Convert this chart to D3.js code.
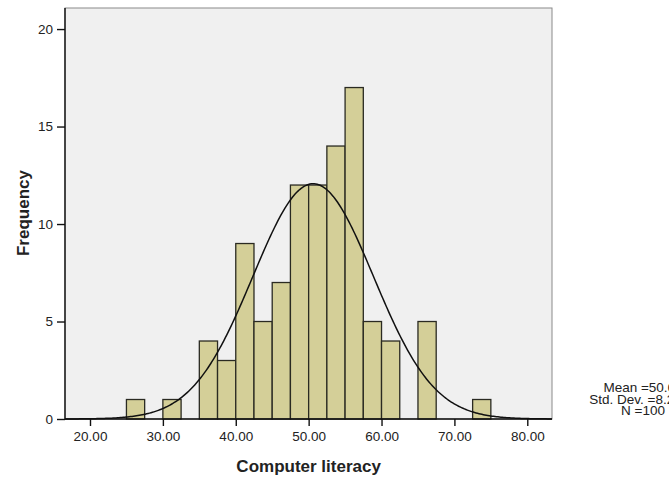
<!DOCTYPE html>
<html>
<head>
<meta charset="utf-8">
<script src="https://cdn.jsdelivr.net/npm/d3@7"></script>
<style>
  body { margin: 0; background: #fff; }
  svg text { font-family: "Liberation Sans", Arial, sans-serif; fill: #222; }
</style>
</head>
<body>
<div class="histogram"></div>
<script>
// bins of width 2.5, starting values
const binStarts = [25, 27.5, 30, 32.5, 35, 37.5, 40, 42.5, 45, 47.5, 50, 52.5, 55, 57.5, 60, 62.5, 65, 67.5, 70, 72.5];
const counts    = [ 1,    0,  1,    0,  4,    3,  9,    5,  7,   12, 12,   14, 17,    5,  4,    0,  5,    0,  0,    1];
const binWidth = 2.5;
const xTicks = [20, 30, 40, 50, 60, 70, 80];
const yTicks = [0, 5, 10, 15, 20];
const stats = { mean: 50.62, sd: 8.2654, n: 100 };
const statLines = ["Mean =50.62", "Std. Dev. =8.2654", "N =100"];

const W = 669, H = 478;
const margin = { top: 8, right: 117, bottom: 59, left: 65 };

const svg = d3.select('.histogram').append('svg')
    .attr('width', W)
    .attr('height', H);

let x = d3.scaleLinear()
    .domain([16.57, 83.39])
    .range([margin.left, W - margin.right]);

let y = d3.scaleLinear()
    .domain([0, 21.08])
    .range([H - margin.bottom, margin.top]);

// plot background
svg.append('rect')
    .attr('x', margin.left)
    .attr('y', margin.top)
    .attr('width', W - margin.right - margin.left)
    .attr('height', H - margin.bottom - margin.top)
    .attr('fill', '#f0f0f0')
    .attr('stroke', '#8a8a8a')
    .attr('stroke-width', 1);

// bars
const bins = binStarts.map((b, i) => ({ x0: b, count: counts[i] })).filter(d => d.count > 0);
svg.append('g')
    .selectAll('rect')
    .data(bins)
    .join('rect')
    .attr('x', d => x(d.x0))
    .attr('y', d => y(d.count))
    .attr('width', d => x(d.x0 + binWidth) - x(d.x0))
    .attr('height', d => y(0) - y(d.count))
    .attr('fill', '#d4cf98')
    .attr('stroke', '#2a2a22')
    .attr('stroke-width', 1.3);

// normal curve
const scale = stats.n * binWidth / (stats.sd * Math.sqrt(2 * Math.PI));
const curve = d3.range(x.domain()[0], x.domain()[1], 0.2).map(v => ({
    v: v,
    f: scale * Math.exp(-0.5 * Math.pow((v - stats.mean) / stats.sd, 2))
}));
svg.append('path')
    .datum(curve)
    .attr('fill', 'none')
    .attr('stroke', '#111')
    .attr('stroke-width', 1.5)
    .attr('d', d3.line().x(d => x(d.v)).y(d => y(d.f)));

// axes
const xAxis = svg.append('g')
    .attr('transform', `translate(0,${H - margin.bottom})`)
    .call(d3.axisBottom(x).tickValues(xTicks).tickFormat(d3.format('.2f')).tickSizeOuter(0).tickSize(7).tickPadding(5));
const yAxis = svg.append('g')
    .attr('transform', `translate(${margin.left},0)`)
    .call(d3.axisLeft(y).tickValues(yTicks).tickSizeOuter(0).tickSize(8).tickPadding(4));

[xAxis, yAxis].forEach(a => {
    a.select('.domain').attr('stroke', '#111').attr('stroke-width', 1.4);
    a.selectAll('.tick line').attr('stroke', '#111').attr('stroke-width', 1.4);
    a.selectAll('.tick text')
        .attr('font-size', 13.5)
        .attr('font-family', '"Liberation Sans", Arial, sans-serif')
        .attr('fill', '#222');
});
// the x domain line should span the whole plot
xAxis.select('.domain').attr('d', `M${margin.left},0H${W - margin.right}`);
yAxis.select('.domain').attr('d', `M0,${H - margin.bottom}V${margin.top}`);

// axis titles
svg.append('text')
    .attr('x', (x(20) + x(80)) / 2)
    .attr('y', 472)
    .attr('text-anchor', 'middle')
    .attr('font-size', 17)
    .attr('font-weight', 'bold')
    .text('Computer literacy');

svg.append('text')
    .attr('transform', `translate(29,${(y(0) + y(20)) / 2 - 11}) rotate(-90)`)
    .attr('text-anchor', 'middle')
    .attr('font-size', 17)
    .attr('font-weight', 'bold')
    .text('Frequency');

// stats box
svg.append('g')
    .selectAll('text')
    .data(statLines)
    .join('text')
    .attr('x', 643)
    .attr('y', (d, i) => 392 + i * 11.5)
    .attr('text-anchor', 'middle')
    .attr('font-size', 13.5)
    .text(d => d);
</script>
</body>
</html>
